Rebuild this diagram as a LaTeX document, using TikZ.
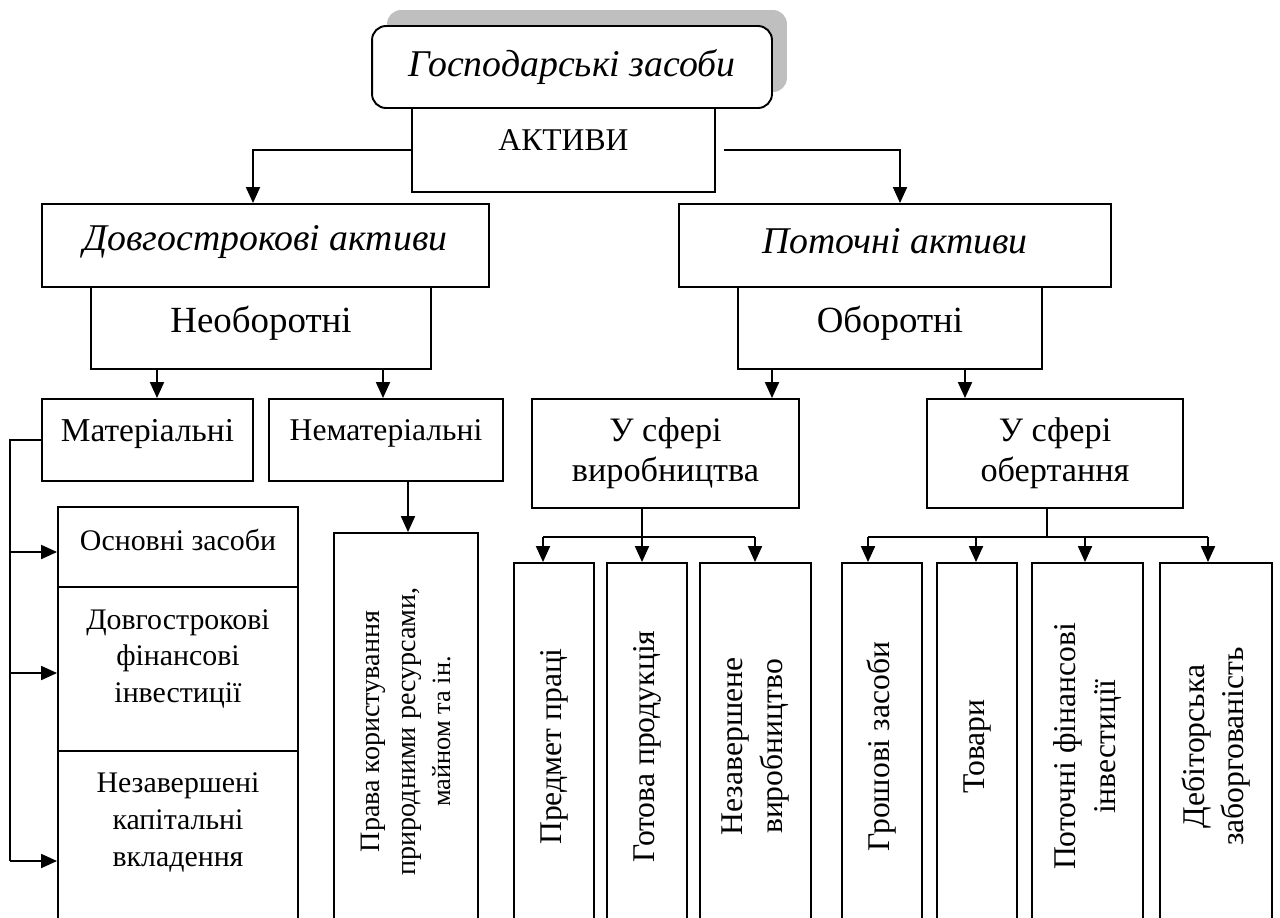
\documentclass[tikz,border=0pt]{standalone}
\usepackage{fontspec}
\setmainfont{Liberation Serif}
\usetikzlibrary{shadows}
\usetikzlibrary{arrows.meta}

\tikzset{
  box/.style={draw, line width=1.1pt, fill=white, align=center, inner sep=2pt,
    font=\fontsize{18}{21.5}\selectfont},
  bigbox/.style={box, font=\fontsize{21.5}{26}\selectfont\itshape},
  midbox/.style={box, font=\fontsize{21}{25}\selectfont},
  stackbox/.style={box, minimum width=4.8cm, font=\fontsize{17}{21}\selectfont},
  vbox/.style={box, rotate=90, minimum width=7.34cm, font=\fontsize{18}{22.5}\selectfont},
  lift/.style={text depth=#1},
  arr/.style={line width=1.1pt, -{Triangle[length=0.32cm,width=0.28cm]}},
  link/.style={line width=1.1pt},
}

\begin{document}
\begin{tikzpicture}[x=0.02cm, y=-0.02cm]
\useasboundingbox (0,0) rectangle (1280,917);
\clip (0,0) rectangle (1280,917);

% top
\node[bigbox, rounded corners=0.28cm, minimum width=8cm, minimum height=1.64cm,
  drop shadow={shadow xshift=0.3cm, shadow yshift=0.32cm, fill=black!25, opacity=1}]
  (gosp) at (572,67) {Господарські засоби};
\node[box, lift=0.4cm, minimum width=6.06cm, minimum height=1.68cm] (aktyvy) at (563.5,150) {АКТИВИ};

% long term / current
\node[bigbox, lift=0.3cm, minimum width=8.94cm, minimum height=1.66cm] (dovh) at (265.5,245.5) {Довгострокові активи};
\node[midbox, lift=0.33cm, minimum width=6.8cm, minimum height=1.64cm] (neob) at (261,328) {Необоротні};
\node[bigbox, lift=0.18cm, minimum width=8.64cm, minimum height=1.66cm] (potoch) at (895,245.5) {Поточні активи};
\node[midbox, lift=0.33cm, minimum width=6.08cm, minimum height=1.64cm] (obor) at (890,328) {Оборотні};

\draw[arr] (aktyvy.west) -| (dovh.north -| 253,0);
\draw[arr] ([xshift=0.16cm]aktyvy.east) -| (potoch.north -| 900,0);

% third level
\node[box, font=\fontsize{19}{23}\selectfont, lift=0.4cm, minimum width=4.22cm, minimum height=1.64cm] (mat) at (147.5,440) {Матеріальні};
\node[box, lift=0.4cm, minimum width=4.68cm, minimum height=1.64cm] (nemat) at (386,440) {Нематеріальні};
\node[box, font=\fontsize{19.5}{22.5}\selectfont, minimum width=5.34cm, minimum height=2.18cm] (vyrob) at (665.5,453.5) {У сфері\\виробництва};
\node[box, font=\fontsize{19.5}{22.5}\selectfont, minimum width=5.12cm, minimum height=2.18cm] (obert) at (1055,453.5) {У сфері\\обертання};

\draw[arr] (neob.south -| 157,0) -- (mat.north -| 157,0);
\draw[arr] (neob.south -| 383,0) -- (nemat.north -| 383,0);
\draw[arr] (obor.south -| 772,0) -- (vyrob.north -| 772,0);
\draw[arr] (obor.south -| 965,0) -- (obert.north -| 965,0);

% material
\node[stackbox, lift=0.28cm, minimum height=1.6cm] (osn) at (178,547) {Основні засоби};
\node[stackbox, lift=0.52cm, minimum height=3.28cm] (dfin) at (178,669) {Довгострокові\\фінансові\\інвестиції};
\node[stackbox, lift=0.84cm, minimum height=3.58cm] (nezav) at (178,840.5) {Незавершені\\капітальні\\вкладення};

\draw[link] (mat.west) -| (10,861);
\foreach \n/\yy in {osn/552, dfin/673, nezav/861}
  \draw[arr] (10,\yy) -- (\n.west |- 0,\yy);

% intangible
\node[vbox, font=\fontsize{16}{20}\selectfont, minimum width=7.94cm, minimum height=2.88cm] (prava) at (406,731.5)
  {Права користування\\природними ресурсами,\\{\fontsize{15}{17.5}\selectfont майном та ін.}};
\draw[arr] (nemat.south -| 408,0) -- (prava.east -| 408,0);

% production
\node[vbox, minimum height=1.6cm] (predmet) at (554,746.5) {Предмет праці};
\node[vbox, minimum height=1.6cm] (hotova) at (647,746.5) {Готова продукція};
\node[vbox, minimum height=2.22cm] (nezvyr) at (755.5,746.5) {Незавершене\\виробництво};

\draw[link] (vyrob.south -| 642,0) -- (642,537);
\draw[link] (543,537) -- (755,537);
\foreach \n/\xx in {predmet/543, hotova/642, nezvyr/755}
  \draw[arr] (\xx,537) -- (\n.east -| \xx,0);

% circulation
\node[vbox, minimum height=1.6cm] (hrosh) at (882,746.5) {Грошові засоби};
\node[vbox, minimum height=1.6cm] (tovary) at (977,746.5) {Товари};
\node[vbox, minimum height=2.22cm] (pfin) at (1087.5,746.5) {Поточні фінансові\\інвестиції};
\node[vbox, minimum height=2.24cm] (debit) at (1216,746.5) {Дебіторська\\заборгованість};

\draw[link] (obert.south -| 1047,0) -- (1047,537);
\draw[link] (868,537) -- (1208,537);
\foreach \n/\xx in {hrosh/868, tovary/976, pfin/1085, debit/1208}
  \draw[arr] (\xx,537) -- (\n.east -| \xx,0);

\end{tikzpicture}
\end{document}
